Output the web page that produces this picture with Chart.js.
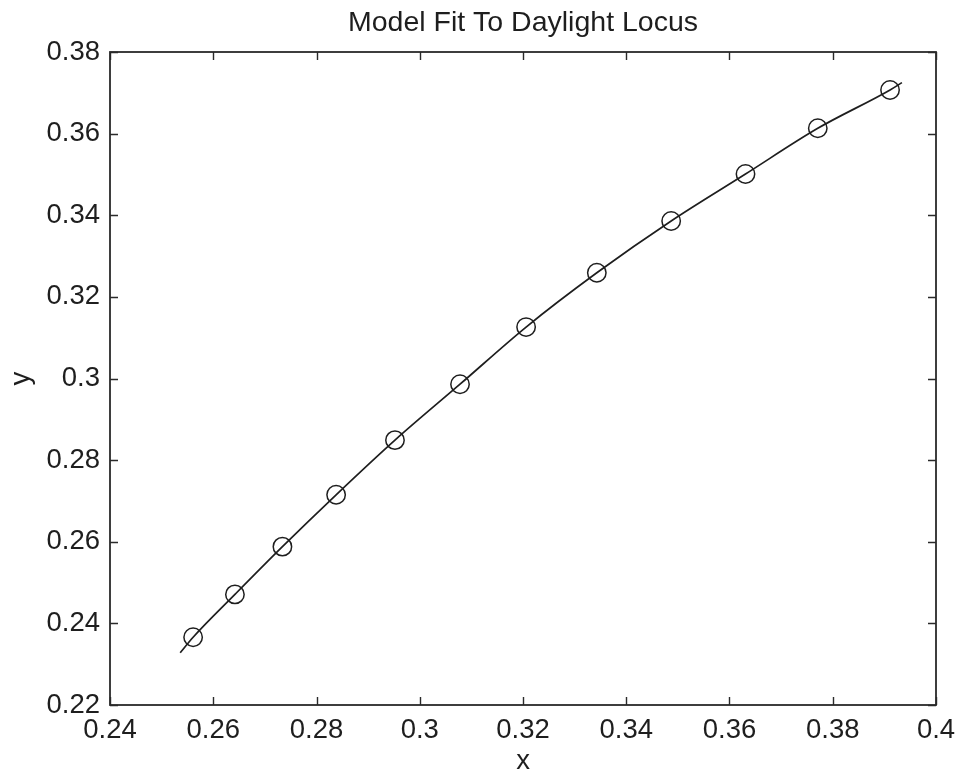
<!DOCTYPE html>
<html>
<head>
<meta charset="utf-8">
<script src="https://cdn.jsdelivr.net/npm/chart.js@4/dist/chart.umd.min.js"></script>
<style>
  html, body { margin: 0; padding: 0; background: #fff; }
  #wrap { width: 958px; height: 772px; }
</style>
</head>
<body>
<div id="wrap"><canvas id="c" width="958" height="772"></canvas></div>
<script>
// ---- data ----
const titleText = 'Model Fit To Daylight Locus';
const xAxisLabel = 'x';
const yAxisLabel = 'y';

// measured daylight locus points (circles)
const locusX = [0.2561, 0.2642, 0.2734, 0.2838, 0.2952, 0.3078, 0.3206, 0.3343, 0.3487, 0.3631, 0.3771, 0.3911];
const locusY = [0.2366, 0.2471, 0.2588, 0.2715, 0.2849, 0.2986, 0.3126, 0.3259, 0.3386, 0.3501, 0.3613, 0.3707];

// model fit curve (solid line)
const fitX = [0.2536, 0.2561, 0.2642, 0.2734, 0.2838, 0.2952, 0.3078, 0.3206, 0.3343, 0.3487, 0.3631, 0.3771, 0.3911, 0.3934];
const fitY = [0.2328, 0.2366, 0.2471, 0.2588, 0.2715, 0.2849, 0.2986, 0.3126, 0.3259, 0.3386, 0.3501, 0.3613, 0.3707, 0.3725];

// tick values
const xTicks = [0.24, 0.26, 0.28, 0.30, 0.32, 0.34, 0.36, 0.38, 0.40];
const yTicks = [0.22, 0.24, 0.26, 0.28, 0.30, 0.32, 0.34, 0.36, 0.38];

// ---- chart ----
const INK = '#1e1e1e';
const FONT = "'Liberation Sans', Arial, Helvetica, sans-serif";
const fmt = v => String(+Number(v).toFixed(2));

const boxTicks = {
  id: 'boxTicks',
  afterDatasetsDraw(chart) {
    const {ctx, chartArea: a, scales} = chart;
    const len = 8;
    ctx.save();
    ctx.strokeStyle = '#2a2a2a';
    ctx.lineWidth = 1.4;
    ctx.beginPath();
    xTicks.forEach(v => {
      const px = Math.round(scales.x.getPixelForValue(v)) + 0.5;
      ctx.moveTo(px, a.bottom); ctx.lineTo(px, a.bottom - len);
      ctx.moveTo(px, a.top); ctx.lineTo(px, a.top + len);
    });
    yTicks.forEach(v => {
      const py = Math.round(scales.y.getPixelForValue(v)) + 0.5;
      ctx.moveTo(a.left, py); ctx.lineTo(a.left + len, py);
      ctx.moveTo(a.right, py); ctx.lineTo(a.right - len, py);
    });
    ctx.stroke();
    ctx.lineWidth = 1.8;
    ctx.strokeRect(a.left, a.top, a.right - a.left, a.bottom - a.top);
    ctx.restore();
  }
};

new Chart(document.getElementById('c'), {
  type: 'scatter',
  data: {
    datasets: [
      {
        label: 'fit',
        data: fitX.map((x, i) => ({x, y: fitY[i]})),
        showLine: true,
        borderColor: INK,
        borderWidth: 1.7,
        pointRadius: 0,
        pointHoverRadius: 0,
        cubicInterpolationMode: 'monotone',
        fill: false
      },
      {
        label: 'locus',
        data: locusX.map((x, i) => ({x, y: locusY[i]})),
        showLine: false,
        pointStyle: 'circle',
        pointRadius: 9.2,
        pointBorderWidth: 1.5,
        pointBorderColor: INK,
        pointBackgroundColor: 'rgba(0,0,0,0)',
        borderColor: INK,
        backgroundColor: 'rgba(0,0,0,0)'
      }
    ]
  },
  options: {
    responsive: false,
    animation: false,
    devicePixelRatio: 1,
    layout: { padding: { left: 0, right: 22, top: 0, bottom: 0 } },
    plugins: {
      legend: { display: false },
      tooltip: { enabled: false },
      title: {
        display: true,
        fullSize: false,
        text: titleText,
        color: INK,
        font: { family: FONT, size: 28.5, weight: 'normal', lineHeight: 1.2 },
        padding: { top: 6.5, bottom: 11.3 }
      }
    },
    scales: {
      x: {
        type: 'linear',
        min: 0.24, max: 0.40,
        afterBuildTicks: s => { s.ticks = xTicks.map(v => ({value: v})); },
        afterFit: s => { s.height = 67; s.paddingLeft = 0; s.paddingRight = 0; },
        grid: { display: false, drawTicks: false, tickLength: 0 },
        border: { display: false },
        ticks: {
          color: INK,
          padding: 9,
          maxRotation: 0,
          autoSkip: false,
          font: { family: FONT, size: 27.5, lineHeight: 1.2 },
          callback: v => fmt(v)
        },
        title: {
          display: true,
          text: xAxisLabel,
          color: INK,
          font: { family: FONT, size: 27.5, lineHeight: 0.8 },
          padding: { top: 0, bottom: 0 }
        }
      },
      y: {
        type: 'linear',
        min: 0.22, max: 0.38,
        afterBuildTicks: s => { s.ticks = yTicks.map(v => ({value: v})); },
        afterFit: s => { s.width = 110; },
        grid: { display: false, drawTicks: false, tickLength: 0 },
        border: { display: false },
        ticks: {
          color: INK,
          padding: 10,
          autoSkip: false,
          font: { family: FONT, size: 27.5, lineHeight: 1.2 },
          callback: v => fmt(v)
        },
        title: {
          display: true,
          text: yAxisLabel,
          color: INK,
          font: { family: FONT, size: 27.5, lineHeight: 1.2 },
          padding: { top: 5, bottom: 0 }
        }
      }
    }
  },
  plugins: [boxTicks]
});
</script>
</body>
</html>
